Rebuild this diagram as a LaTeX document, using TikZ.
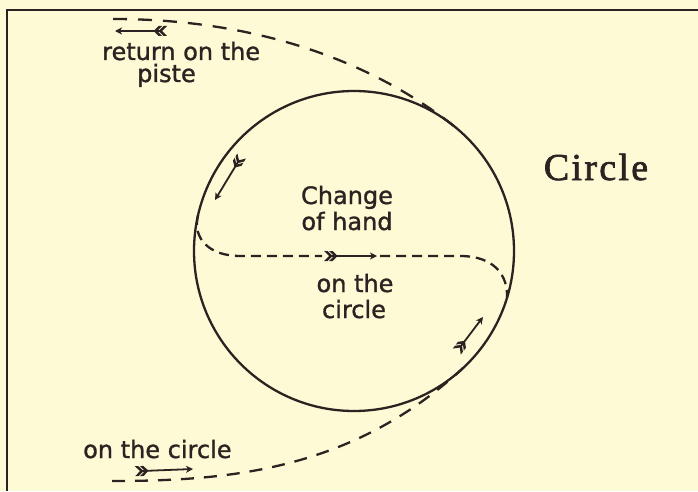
\documentclass[tikz,border=0pt]{standalone}
\usepackage{fontspec}
\setmainfont[FakeBold=1.2]{DejaVu Sans}
\newfontfamily\titlefont[LetterSpace=6,FakeBold=1.8]{Liberation Serif}
\usetikzlibrary{arrows.meta}
\definecolor{paper}{HTML}{FDFBD5}
\definecolor{ink}{HTML}{2B2321}
\tikzset{
  lbl/.style={font=\fontsize{24}{26}\selectfont, text=ink, inner sep=0pt},
  dtop/.style={draw=ink, line width=2.3pt, dash pattern=on 14pt off 11pt},
  dbot/.style={draw=ink, line width=2.3pt, dash pattern=on 13pt off 10pt},
  dmid/.style={draw=ink, line width=2.3pt, dash pattern=on 10pt off 6pt},
  shaft/.style={draw=ink, line width=1.8pt, -{Stealth[length=7pt,width=7pt,inset=2pt]}},
  fletch/.pic={
    \fill[ink] (-2,0) -- (-7,5) -- (-3.5,5) -- (1.5,0) -- (-3.5,-5) -- (-7,-5) -- cycle;
    \fill[ink] (3,0) -- (-2,5) -- (1.5,5) -- (6.5,0) -- (1.5,-5) -- (-2,-5) -- cycle;
  },
}
\begin{document}
\begin{tikzpicture}[x=1pt,y=1pt]
\fill[paper] (0,0) rectangle (698,491);
\useasboundingbox (0,0) rectangle (698,491);
% frame
\draw[ink, line width=2.8pt] (7,0) -- (7,481) -- (698,481);
% circle
\node[draw=ink, line width=2.3pt, circle, minimum size=320pt, inner sep=0pt, outer sep=0pt] (C) at (354,240) {};
% dashed tracks
\coordinate (topstart) at (113,472);
\coordinate (botstart) at (112,10);
\draw[dtop] (topstart) .. controls (260,472) and (374,428) .. (C.51.8);
\draw[dbot] (botstart) .. controls (230,10) and (352,21) .. (C.-47.3);
\coordinate (m1) at (322,235);
\coordinate (m2) at (380,235);
\draw[dmid] (C.167) .. controls (192,252) and (210,235) .. (240,235) -- (m1);
\draw[dmid] (m2) -- (460,235) .. controls (495,235) and (508,215) .. (C.-17.9);
% direction arrows
\coordinate (a1s) at (160,460); \coordinate (a1e) at (115,460);
\coordinate (a2s) at (238,329); \coordinate (a2e) at (215,291);
\coordinate (a3s) at (331,235); \coordinate (a3e) at (377,235);
\coordinate (a4s) at (461,145); \coordinate (a4e) at (483,174);
\coordinate (a5s) at (142,20);  \coordinate (a5e) at (193,22);
\draw[shaft] (a1s) -- (a1e);
\draw[shaft] (a2s) -- (a2e);
\draw[shaft] (a3s) -- (a3e);
\draw[shaft] (a4s) -- (a4e);
\draw[shaft] (a5s) -- (a5e);
\pic[rotate=180] at (a1s) {fletch};
\pic[rotate=-121] at (a2s) {fletch};
\pic at (a3s) {fletch};
\pic[rotate=53] at (a4s) {fletch};
\pic[rotate=2] at (a5s) {fletch};
% labels
\node[lbl, anchor=base west] (ret1) at (102,431) {return on the};
\node[lbl, anchor=base west] (ret2) at (137,409) {piste};
\node[lbl, anchor=base] (ch1) at (347,287) {Change};
\node[lbl, anchor=base] (ch2) at (347,261) {of hand};
\node[lbl, anchor=base] (oc1) at (355,199) {on the};
\node[lbl, anchor=base] (oc2) at (354,173) {circle};
\node[lbl, anchor=base west] (bot) at (83,33) {on the circle};
\node[text=ink, inner sep=0pt, anchor=base, font=\titlefont\fontsize{38}{40}\selectfont] (title) at (596,311) {Circle};
\end{tikzpicture}
\end{document}
